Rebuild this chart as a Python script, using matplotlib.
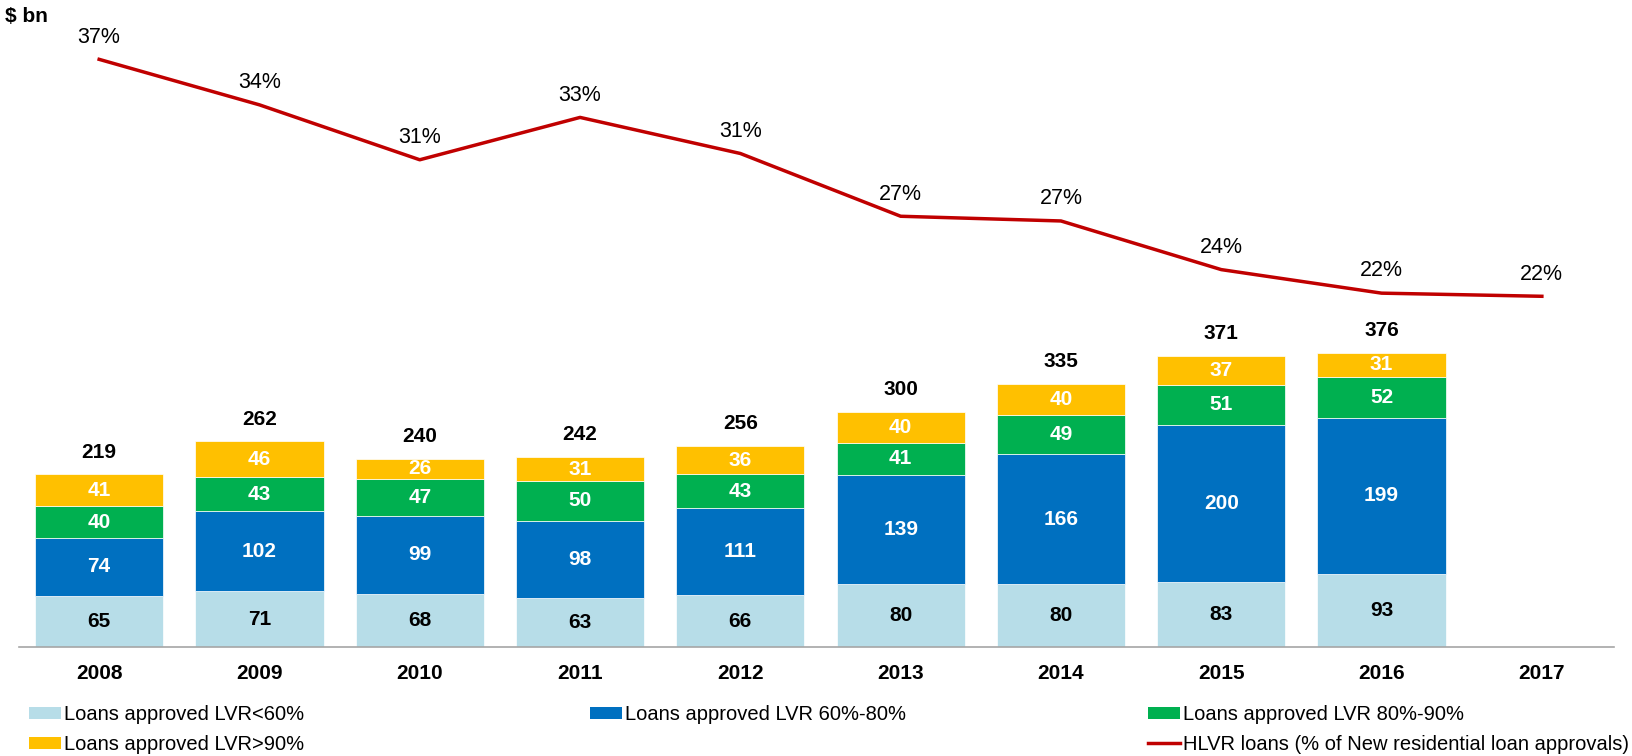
import matplotlib.pyplot as plt
from matplotlib.patches import Patch
from matplotlib.lines import Line2D

plt.rcParams["font.family"] = ["Liberation Sans", "DejaVu Sans"]

years = ["2008", "2009", "2010", "2011", "2012", "2013", "2014", "2015", "2016", "2017"]
lvr_lt60 = [65, 71, 68, 63, 66, 80, 80, 83, 93]
lvr_60_80 = [74, 102, 99, 98, 111, 139, 166, 200, 199]
lvr_80_90 = [40, 43, 47, 50, 43, 41, 49, 51, 52]
lvr_gt90 = [41, 46, 26, 31, 36, 40, 40, 37, 31]
totals = [219, 262, 240, 242, 256, 300, 335, 371, 376]
hlvr_pct = [37.0, 34.1, 30.6, 33.3, 31.0, 27.0, 26.7, 23.6, 22.1, 21.9]

labels = [
    "Loans approved LVR<60%",
    "Loans approved LVR 60%-80%",
    "Loans approved LVR 80%-90%",
    "Loans approved LVR>90%",
]
line_label = "HLVR loans (% of New residential loan approvals)"
colors = ["#B7DDE8", "#0070C0", "#00B050", "#FFC000"]
text_colors = ["black", "white", "white", "white"]
red = "#C00000"

fig = plt.figure(figsize=(16.33, 7.56), dpi=100)
ax = fig.add_axes([19 / 1633, 109 / 756, 1595 / 1633, 617 / 756])

x = list(range(len(years)))
xb = x[:len(lvr_lt60)]
series = [lvr_lt60, lvr_60_80, lvr_80_90, lvr_gt90]
bottom = [0] * len(xb)
for vals, c, tc in zip(series, colors, text_colors):
    bars = ax.bar(xb, vals, 0.8, bottom=bottom, color=c, edgecolor="white", linewidth=0.5)
    for b, v, y0 in zip(bars, vals, bottom):
        ax.text(b.get_x() + b.get_width() / 2, y0 + v / 2, str(v), ha="center", va="center",
                color=tc, fontsize=15, fontweight="bold")
    bottom = [a + v for a, v in zip(bottom, vals)]

for xi, top, tot in zip(xb, bottom, totals):
    ax.annotate(str(tot), (xi, top), xytext=(0, 16), textcoords="offset points",
                ha="center", va="center", fontsize=15, fontweight="bold")

ax.set_xlim(-0.5, 9.45)
ax.set_ylim(0, 786)
ax.set_xticks(x)
ax.set_xticklabels(years, fontsize=15, fontweight="bold")
ax.tick_params(axis="x", length=0, pad=12)
ax.set_yticks([])
for s in ["top", "left", "right"]:
    ax.spines[s].set_visible(False)
ax.spines["bottom"].set_color("#A6A6A6")
ax.spines["bottom"].set_linewidth(1.2)

ax2 = ax.twinx()
ax2.plot(x, hlvr_pct, color=red, linewidth=2.5)
for xi, p in zip(x, hlvr_pct):
    ax2.annotate(f"{round(p)}%", (xi, p), xytext=(0, 16), textcoords="offset points",
                 ha="center", va="center", fontsize=15.5, annotation_clip=False)
ax2.set_ylim(-0.45, 38.87)
ax2.set_yticks([])
for s in ax2.spines.values():
    s.set_visible(False)

fig.text(5 / 1633, 1 - 16 / 756, "$ bn", fontsize=15, fontweight="bold", ha="left", va="center")

handles = [Patch(facecolor=c) for c in colors]
line_h = Line2D([], [], color=red, linewidth=2.5)
leg_kw = dict(frameon=False, fontsize=14.5, handlelength=1.6, handleheight=0.55,
              handletextpad=0.15, labelspacing=0.55, borderaxespad=0, borderpad=0, loc="upper left")
anchor_y = 1 - 705 / 756
fig.legend([handles[0], handles[3]], [labels[0], labels[3]],
           bbox_to_anchor=(29 / 1633, anchor_y), **leg_kw)
fig.legend([handles[1]], [labels[1]], bbox_to_anchor=(590 / 1633, anchor_y), **leg_kw)
fig.legend([handles[2], line_h], [labels[2], line_label],
           bbox_to_anchor=(1148 / 1633, anchor_y), **leg_kw)

fig.savefig("out.png", dpi=100)
